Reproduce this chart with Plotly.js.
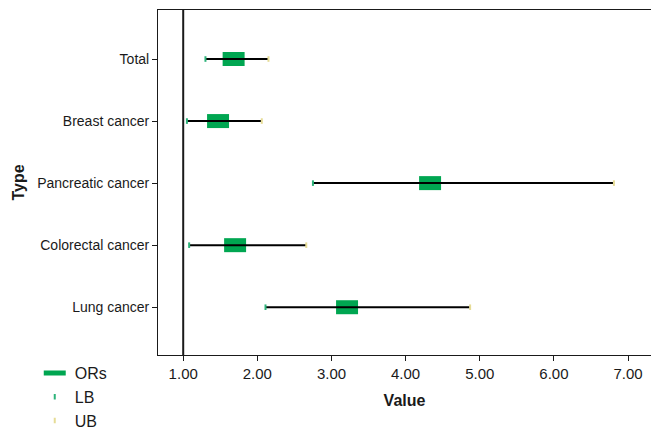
<!DOCTYPE html>
<html>
<head>
<meta charset="utf-8">
<script src="https://cdn.plot.ly/plotly-3.0.1.min.js"></script>
<style>html,body{margin:0;padding:0;background:#fff;}#chart{width:651px;height:434px;}</style>
</head>
<body>
<div id="chart"></div>
<script>
const categories = ["Lung cancer", "Colorectal cancer", "Pancreatic cancer", "Breast cancer", "Total"];
const ORs = [3.21, 1.70, 4.33, 1.47, 1.68];
const LB  = [2.11, 1.08, 2.75, 1.05, 1.30];
const UB  = [4.87, 2.66, 6.81, 2.06, 2.15];
const xTickVals = [1, 2, 3, 4, 5, 6, 7];
const xTickText = ["1.00", "2.00", "3.00", "4.00", "5.00", "6.00", "7.00"];

const FONT = "'Liberation Sans', Arial, sans-serif";

// whisker lines LB -> UB
const wx = [], wy = [];
categories.forEach((c, i) => { wx.push(LB[i], UB[i], null); wy.push(c, c, null); });

const traces = [
  {
    type: "scatter", mode: "markers", name: "ORs",
    x: ORs, y: categories,
    marker: { symbol: "line-ew", size: 15.7, color: "#00A651", line: { color: "#00A651", width: 14 } },
    hoverinfo: "x+y"
  },
  {
    type: "scatter", mode: "lines", name: "CI", showlegend: false,
    x: wx, y: wy,
    line: { color: "#000000", width: 2 }, hoverinfo: "skip"
  },
  {
    type: "scatter", mode: "markers", name: "LB",
    x: LB, y: categories,
    marker: { symbol: "line-ns", size: 4, color: "#2DB37A", line: { color: "#2DB37A", width: 2 } }
  },
  {
    type: "scatter", mode: "markers", name: "UB",
    x: UB, y: categories,
    marker: { symbol: "line-ns", size: 4, color: "#E6DC96", line: { color: "#E6DC96", width: 2 } }
  }
];

const layout = {
  width: 651, height: 434,
  margin: { l: 158, r: 0, t: 10, b: 79, autoexpand: false },
  paper_bgcolor: "#ffffff", plot_bgcolor: "#ffffff",
  font: { family: FONT, size: 15, color: "#1a1a1a" },
  showlegend: true,
  legend: {
    x: -0.25, xanchor: "left", y: -0.003, yanchor: "top",
    font: { family: FONT, size: 16, color: "#1a1a1a" },
    itemwidth: 30, tracegroupgap: 0, bgcolor: "rgba(0,0,0,0)"
  },
  xaxis: {
    range: [0.66, 7.31],
    tickvals: xTickVals, ticktext: xTickText,
    showgrid: false, zeroline: false,
    showline: true, linecolor: "#1a1a1a", linewidth: 1, mirror: true,
    ticks: "outside", ticklen: 5, tickcolor: "#1a1a1a",
    tickfont: { family: FONT, size: 15, color: "#1a1a1a" },
    title: { text: "<b>Value</b>", font: { family: FONT, size: 16, color: "#1a1a1a" }, standoff: 13 }
  },
  yaxis: {
    type: "category", categoryorder: "array", categoryarray: categories,
    range: [-0.77, 4.79],
    showgrid: false, zeroline: false,
    showline: true, linecolor: "#1a1a1a", linewidth: 1,
    ticks: "outside", ticklen: 5, tickcolor: "#1a1a1a",
    tickfont: { family: FONT, size: 14, color: "#1a1a1a" },
    title: { text: "<b>Type</b>", font: { family: FONT, size: 16, color: "#1a1a1a" }, standoff: 8 }
  },
  shapes: [
    { type: "line", xref: "x", yref: "paper", x0: 1, x1: 1, y0: 0, y1: 1, line: { color: "#1a1a1a", width: 2 } }
  ]
};

Plotly.newPlot("chart", traces, layout, { displayModeBar: false, staticPlot: true });
</script>
</body>
</html>
